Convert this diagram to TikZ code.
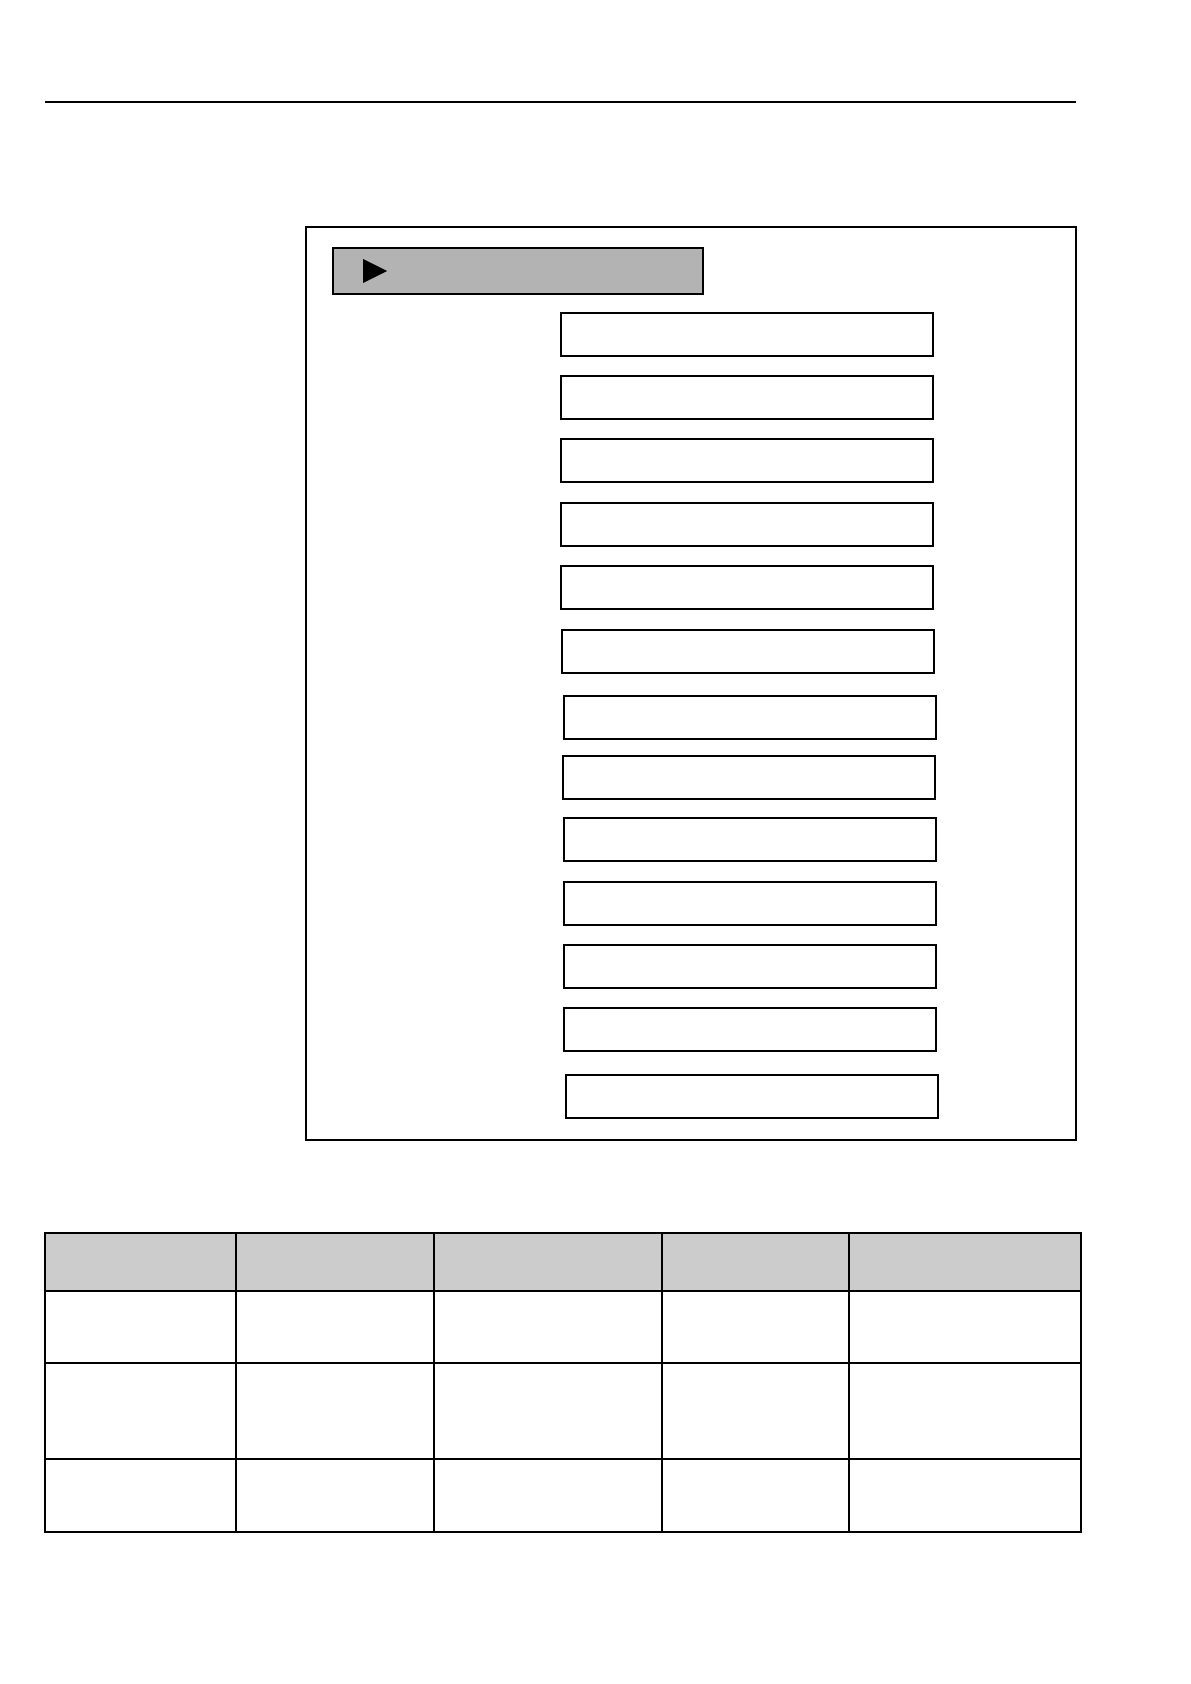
\documentclass[tikz,border=0pt]{standalone}
\usepackage{xcolor}
\usepackage{tikz}
\usetikzlibrary{positioning}

\definecolor{menugray}{HTML}{B3B3B3}
\definecolor{headgray}{HTML}{CCCCCC}

\begin{document}
\begin{tikzpicture}[x=0.5pt,y=-0.5pt,line width=0.7pt,
    field/.style={draw,inner sep=0pt,outer sep=0pt,anchor=north west,
                  minimum width=186pt,minimum height=21.5pt},
    menubar/.style={field,fill=menugray,minimum width=185pt,minimum height=23pt}]
      \useasboundingbox (0,0) rectangle (1190,1684);

      % page rule
      \draw (45,102) -- (1076,102);

      % display frame
      \draw (306,227) rectangle (1076,1140);
      \node[menubar]  (M)  at (333,248)  {};
      \fill (363,259) -- (387,271) -- (363,283) -- cycle;

      \node[field]    (F1)  at (561,313)  {};
      \node[field]    (F2)  at (561,376)  {};
      \node[field]    (F3)  at (561,439)  {};
      \node[field]    (F4)  at (561,503)  {};
      \node[field]    (F5)  at (561,566)  {};
      \node[field]    (F6)  at (562,630)  {};
      \node[field]    (F7)  at (564,696)  {};
      \node[field]    (F8)  at (563,756)  {};
      \node[field]    (F9)  at (564,818)  {};
      \node[field]    (F10) at (564,882)  {};
      \node[field]    (F11) at (564,945)  {};
      \node[field]    (F12) at (564,1008) {};
      \node[field]    (F13) at (566,1075) {};

      % table
      \fill[headgray] (45,1233) rectangle (1081,1291);
      \draw (45,1233) rectangle (1081,1532);
      \draw (45,1291) -- (1081,1291);
      \draw (45,1363) -- (1081,1363);
      \draw (45,1459) -- (1081,1459);
      \draw (236,1233) -- (236,1532);
      \draw (434,1233) -- (434,1532);
      \draw (662,1233) -- (662,1532);
      \draw (849,1233) -- (849,1532);
    \end{tikzpicture}
\end{document}
